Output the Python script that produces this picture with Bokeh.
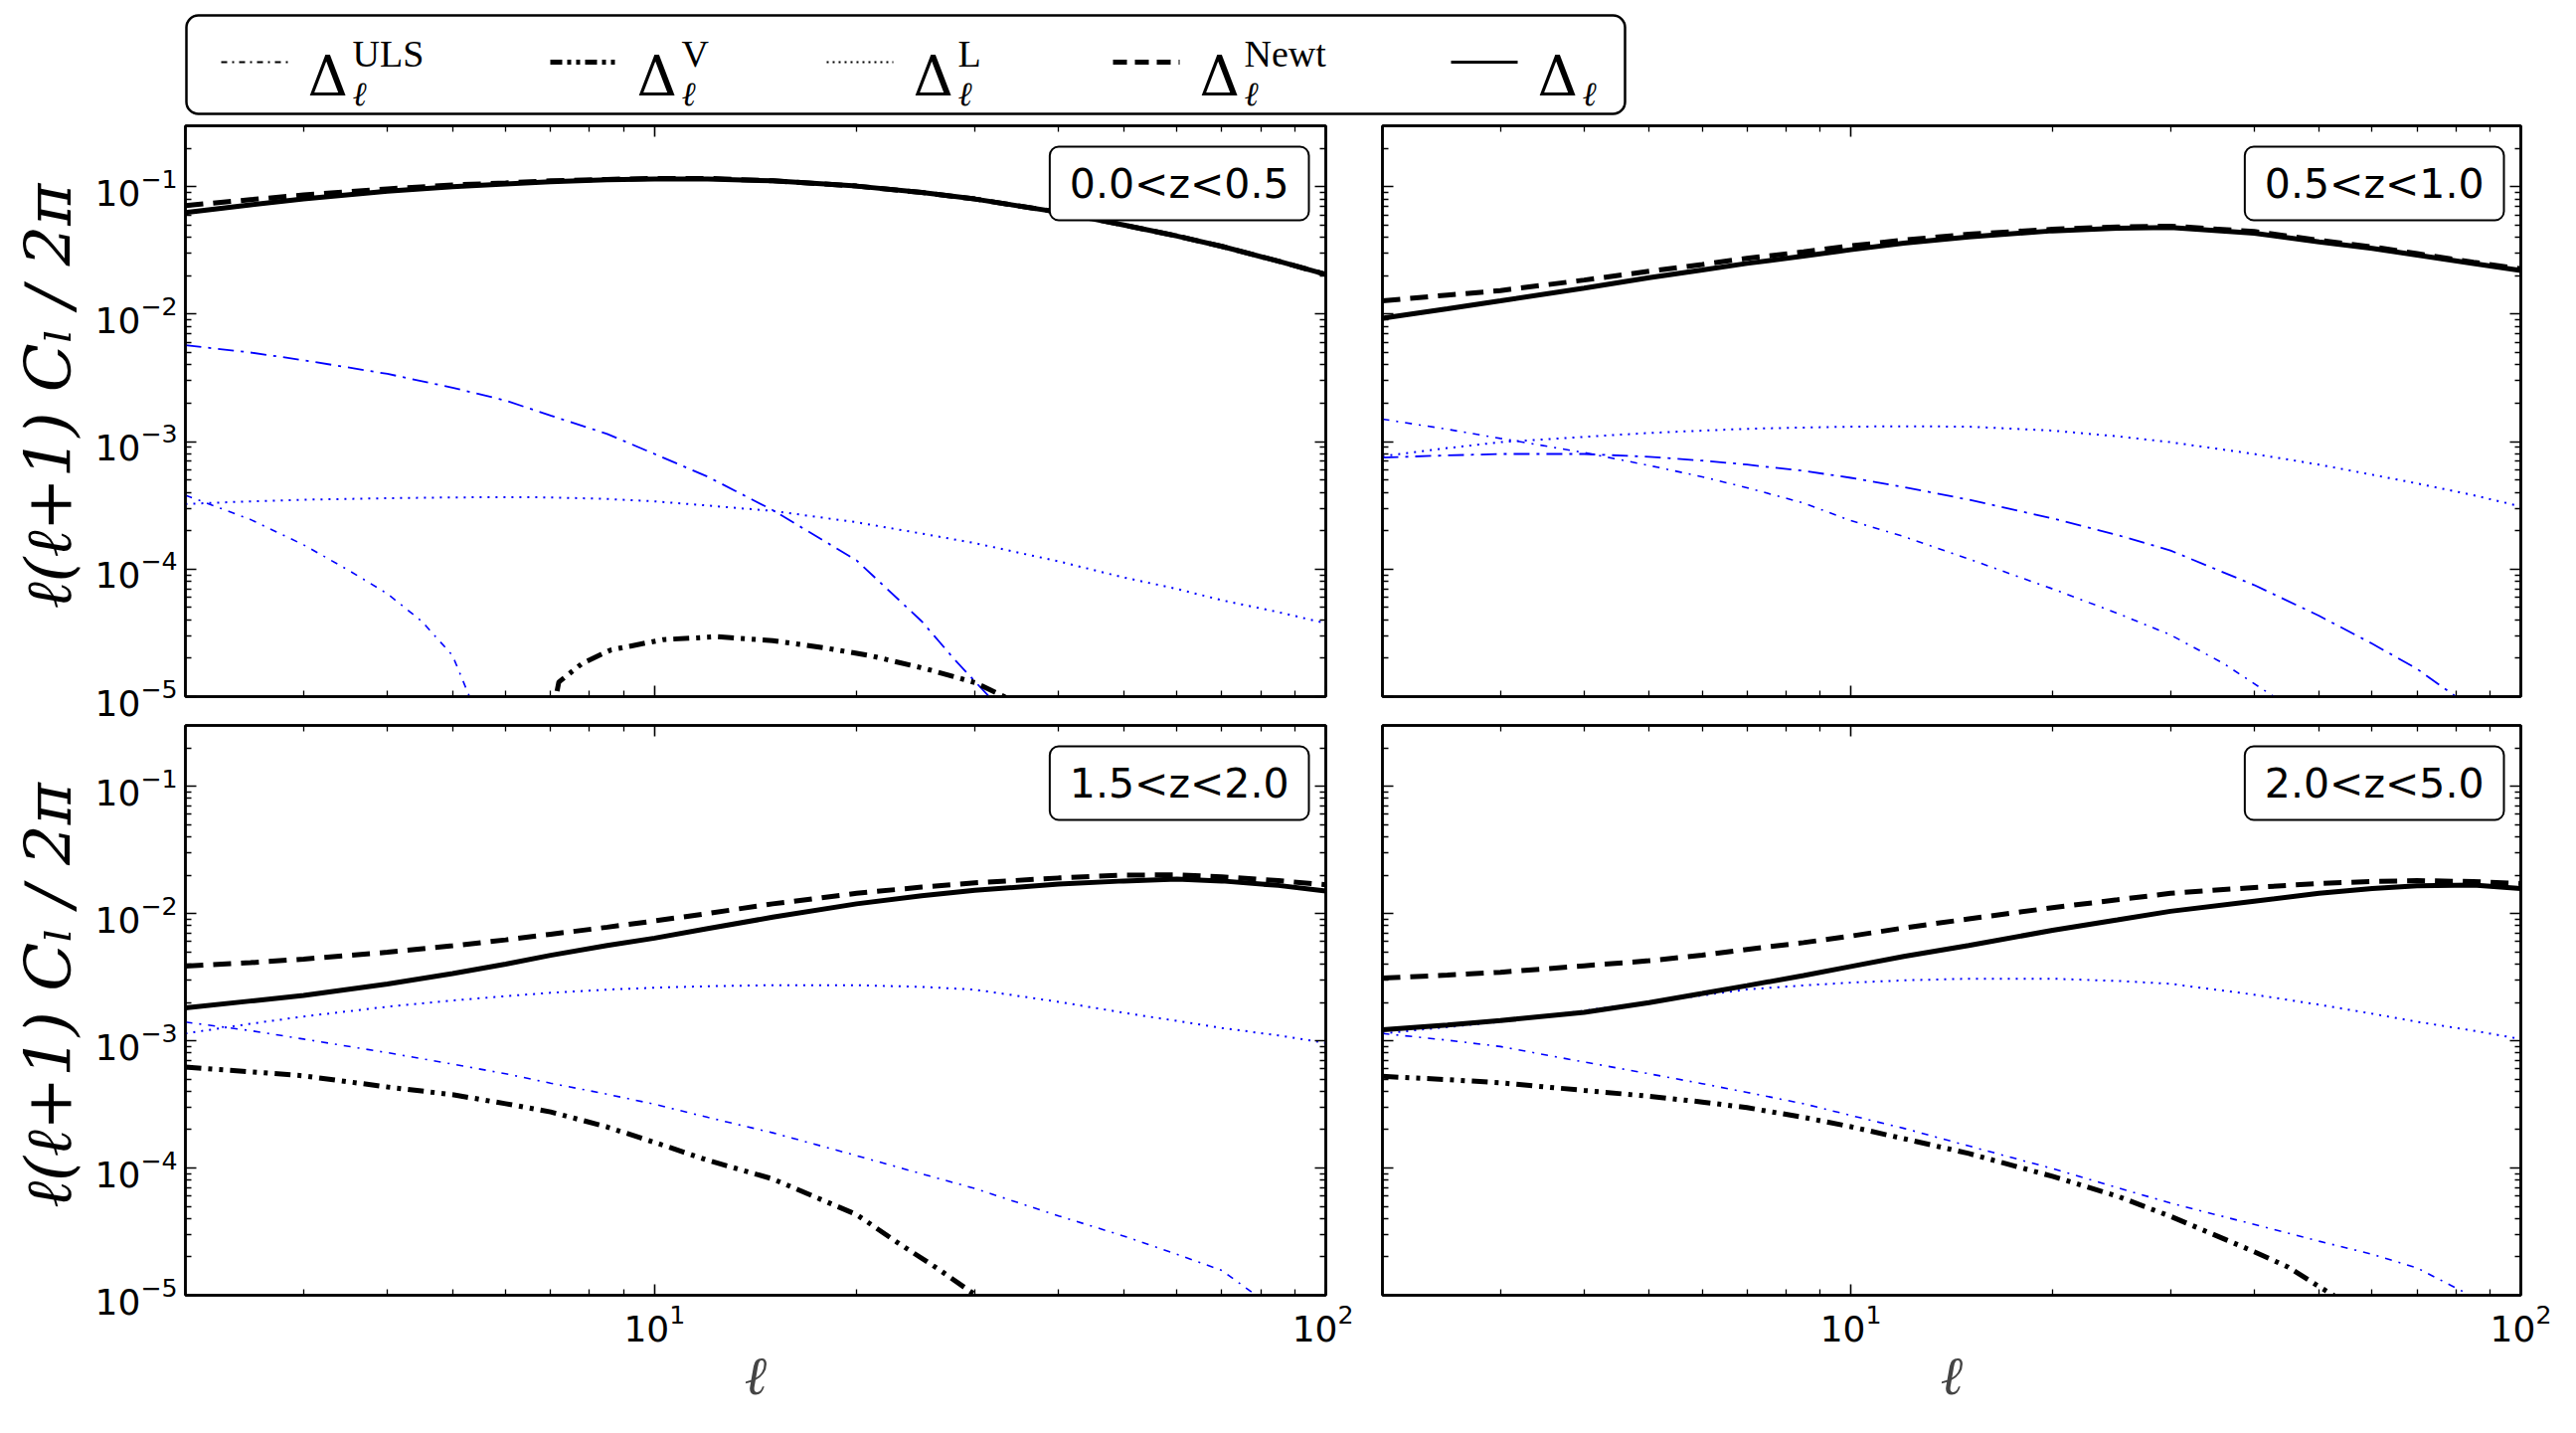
import math
from bokeh.plotting import figure
from bokeh.layouts import column, row
from bokeh.models import Range1d, LogAxis, FixedTicker, Label, BoxAnnotation
from bokeh.core.properties import value
from bokeh.embed import file_html
from bokeh.resources import INLINE

BLUE = "#0000ff"

# common multipole grid for the smooth spectra
ELL = [2, 2.5, 3, 4, 5, 6, 7, 8.5, 10, 12, 15, 20, 25, 30, 40, 50, 60, 70, 85, 100]

# ---- 0.0 < z < 0.5 ----
z1_total = [0.0626, 0.072, 0.080, 0.092, 0.100, 0.105, 0.109, 0.113, 0.115, 0.115,
            0.111, 0.101, 0.090, 0.080, 0.063, 0.050, 0.041, 0.034, 0.026, 0.0205]
z1_newt = [0.071, 0.079, 0.086, 0.096, 0.103, 0.107, 0.111, 0.114, 0.116, 0.116,
           0.111, 0.101, 0.090, 0.080, 0.063, 0.050, 0.041, 0.034, 0.026, 0.0205]
z1_L = [3.24e-4, 3.4e-4, 3.5e-4, 3.6e-4, 3.65e-4, 3.67e-4, 3.65e-4, 3.55e-4, 3.4e-4, 3.15e-4,
        2.86e-4, 2.33e-4, 1.9e-4, 1.6e-4, 1.15e-4, 8.6e-5, 7.0e-5, 5.7e-5, 4.6e-5, 3.76e-5]
z1_uls_ell = [2, 2.5, 3, 3.5, 4, 4.5, 5, 5.3, 5.5]
z1_uls = [3.8e-4, 2.45e-4, 1.55e-4, 9.8e-5, 6.4e-5, 3.9e-5, 2.1e-5, 1.0e-5, 5e-6]
z1_dd_ell = [2, 2.5, 3, 4, 5, 6, 7, 8.5, 10, 12, 15, 20, 25, 28, 31.5, 33]
z1_dd = [5.7e-3, 5.0e-3, 4.35e-3, 3.4e-3, 2.65e-3, 2.1e-3, 1.6e-3, 1.15e-3, 8.0e-4, 5.3e-4,
         2.9e-4, 1.17e-4, 3.9e-5, 1.95e-5, 1.0e-5, 5e-6]
z1_v_ell = [6.95, 7.2, 7.8, 8.6, 10.3, 12.4, 15, 18, 21, 25.5, 30, 33.2, 34]
z1_v = [5e-6, 1.3e-5, 1.82e-5, 2.32e-5, 2.8e-5, 2.95e-5, 2.75e-5, 2.4e-5, 2.09e-5, 1.64e-5,
        1.29e-5, 1.0e-5, 8e-6]

# ---- 0.5 < z < 1.0 ----
z2_total = [9.3e-3, 0.0110, 0.0127, 0.0160, 0.0193, 0.0222, 0.0250, 0.0285, 0.0320, 0.0360,
            0.0403, 0.0450, 0.0472, 0.0478, 0.0431, 0.0368, 0.0328, 0.0290, 0.0249, 0.0220]
z2_newt = [0.0127, 0.0141, 0.0153, 0.0185, 0.0217, 0.0245, 0.0274, 0.0308, 0.0343, 0.0381,
           0.0423, 0.0463, 0.0483, 0.0490, 0.0445, 0.0380, 0.0337, 0.0298, 0.0255, 0.0227]
z2_L = [7.7e-4, 8.9e-4, 9.9e-4, 1.09e-3, 1.17e-3, 1.22e-3, 1.26e-3, 1.29e-3, 1.31e-3, 1.32e-3,
        1.31e-3, 1.22e-3, 1.10e-3, 9.9e-4, 8.0e-4, 6.6e-4, 5.5e-4, 4.7e-4, 3.8e-4, 3.1e-4]
z2_uls_ell = [2, 2.5, 3, 4, 5, 6, 7, 8.5, 10, 12, 15, 20, 25, 30, 36, 42.8, 45]
z2_uls = [1.5e-3, 1.25e-3, 1.06e-3, 8.2e-4, 6.5e-4, 5.3e-4, 4.35e-4, 3.3e-4, 2.4e-4, 1.8e-4,
          1.2e-4, 7.0e-5, 4.5e-5, 3.05e-5, 1.82e-5, 1.0e-5, 7e-6]
z2_dd_ell = [2, 2.5, 3, 4, 5, 6, 7, 8.5, 10, 12, 15, 20, 25, 30, 40, 50, 60, 70, 80, 83]
z2_dd = [7.5e-4, 7.8e-4, 8.0e-4, 8.0e-4, 7.6e-4, 7.1e-4, 6.6e-4, 5.9e-4, 5.2e-4, 4.4e-4,
         3.5e-4, 2.5e-4, 1.85e-4, 1.4e-4, 7.5e-5, 4.3e-5, 2.6e-5, 1.65e-5, 1.0e-5, 7e-6]

# ---- 1.5 < z < 2.0 ----
z3_total = [1.81e-3, 2.05e-3, 2.27e-3, 2.79e-3, 3.37e-3, 4.0e-3, 4.69e-3, 5.6e-3, 6.4e-3, 7.6e-3,
            9.35e-3, 0.0119, 0.0138, 0.0152, 0.0170, 0.0180, 0.0186, 0.0180, 0.0166, 0.0150]
z3_newt = [3.86e-3, 4.1e-3, 4.38e-3, 4.96e-3, 5.57e-3, 6.2e-3, 6.86e-3, 7.8e-3, 8.73e-3, 0.0100,
           0.0119, 0.0144, 0.0161, 0.0174, 0.0190, 0.0200, 0.0201, 0.0194, 0.0181, 0.0168]
z3_L = [1.14e-3, 1.36e-3, 1.55e-3, 1.85e-3, 2.07e-3, 2.24e-3, 2.38e-3, 2.52e-3, 2.61e-3, 2.68e-3,
        2.73e-3, 2.73e-3, 2.65e-3, 2.52e-3, 2.02e-3, 1.66e-3, 1.43e-3, 1.26e-3, 1.1e-3, 9.6e-4]
z3_uls_ell = [2, 2.5, 3, 4, 5, 6, 7, 8.5, 10, 12, 15, 20, 25, 30, 40, 50, 60, 70, 78.7, 82]
z3_uls = [1.4e-3, 1.2e-3, 1.03e-3, 8.05e-4, 6.55e-4, 5.5e-4, 4.64e-4, 3.8e-4, 3.17e-4, 2.5e-4,
          1.89e-4, 1.25e-4, 9.0e-5, 6.9e-5, 4.2e-5, 2.92e-5, 2.1e-5, 1.57e-5, 1.0e-5, 7e-6]
z3_v_ell = [2, 2.5, 3, 4, 5, 6, 7, 8.5, 10, 12, 15, 20, 23, 26.5, 30.1, 31]
z3_v = [6.2e-4, 5.7e-4, 5.3e-4, 4.33e-4, 3.77e-4, 3.2e-4, 2.76e-4, 2.1e-4, 1.59e-4, 1.15e-4,
        8.2e-5, 4.3e-5, 2.6e-5, 1.6e-5, 1.0e-5, 8e-6]

# ---- 2.0 < z < 5.0 ----
z4_total = [1.22e-3, 1.33e-3, 1.44e-3, 1.67e-3, 1.99e-3, 2.35e-3, 2.71e-3, 3.25e-3, 3.83e-3, 4.6e-3,
            5.6e-3, 7.37e-3, 8.9e-3, 0.0104, 0.0125, 0.0144, 0.0157, 0.0165, 0.0167, 0.0157]
z4_newt = [3.11e-3, 3.28e-3, 3.45e-3, 3.88e-3, 4.25e-3, 4.7e-3, 5.22e-3, 5.9e-3, 6.64e-3, 7.7e-3,
           9.06e-3, 0.0111, 0.0128, 0.0144, 0.0160, 0.0172, 0.0178, 0.0181, 0.0178, 0.0172]
z4_L = [1.14e-3, 1.28e-3, 1.41e-3, 1.72e-3, 2.02e-3, 2.27e-3, 2.53e-3, 2.72e-3, 2.86e-3, 2.98e-3,
        3.07e-3, 3.07e-3, 2.95e-3, 2.8e-3, 2.3e-3, 1.92e-3, 1.63e-3, 1.41e-3, 1.2e-3, 1.03e-3]
z4_uls_ell = [2, 2.5, 3, 4, 5, 6, 7, 8.5, 10, 12, 15, 20, 25, 30, 40, 50, 60, 70, 84, 87]
z4_uls = [1.14e-3, 1.01e-3, 9.0e-4, 6.8e-4, 5.5e-4, 4.6e-4, 3.93e-4, 3.2e-4, 2.59e-4, 2.05e-4,
          1.49e-4, 9.9e-5, 7.0e-5, 5.3e-5, 3.6e-5, 2.66e-5, 2.1e-5, 1.64e-5, 1.0e-5, 8e-6]
z4_v_ell = [2, 2.5, 3, 4, 5, 6, 7, 8.5, 10, 12, 15, 20, 25, 30, 40, 45, 50, 52.5, 54]
z4_v = [5.25e-4, 4.95e-4, 4.67e-4, 4.07e-4, 3.66e-4, 3.3e-4, 2.98e-4, 2.5e-4, 2.11e-4, 1.7e-4,
        1.3e-4, 8.6e-5, 6.0e-5, 4.17e-5, 2.2e-5, 1.66e-5, 1.17e-5, 1.0e-5, 8e-6]

BIN_TAGS = ["0.0<z<0.5", "0.5<z<1.0", "1.5<z<2.0", "2.0<z<5.0"]
LEGEND_SUPS = ["ULS", "V", "L", "Newt", ""]
Y_LABEL = "\u2113(\u2113+1) C\u2097 / 2\u03c0"
X_LABEL = "\u2113"

STYLE = {
    "total": dict(line_color="black", line_width=5),
    "newt": dict(line_color="black", line_width=5, line_dash="18 10"),
    "V": dict(line_color="black", line_width=5, line_dash="16 7 4 7 4 7"),
    "L": dict(line_color=BLUE, line_width=2, line_dash="2 6"),
    "ULS": dict(line_color=BLUE, line_width=1.6, line_dash="7 7 2 7"),
    "extra": dict(line_color=BLUE, line_width=1.8, line_dash="16 7 3 7"),
}
DRAW_ORDER = ["L", "ULS", "extra", "V", "newt", "total"]

X_LO, X_HI = 2, 100
Y_LO, Y_HI = 1e-5, 0.3
XMAJ = [10, 100]
XMIN = [k * 10 ** e for e in (0, 1) for k in range(2, 10)]
YMAJ = [10.0 ** e for e in range(-5, 0)]
YMIN = [k * 10.0 ** e for e in range(-5, 0) for k in range(2, 10)]

TICK_FONT = "DejaVu Sans"
MATH_FONT = "DejaVu Serif"

# layout sizes (pixels)
LEG_H = 116
STRIP_W = 88
LW, RW = 1273, 1230
FRAME_H = 574
TOP_BT, TOP_BB = 10, 27
BOT_BT, BOT_BB = 2, 139
TOP_H = TOP_BT + FRAME_H + TOP_BB
BOT_H = BOT_BT + FRAME_H - 1 + BOT_BB


def style_axis(ax, major, minor, labelled):
    ax.ticker = FixedTicker(ticks=major, minor_ticks=minor)
    ax.axis_line_color = "black"
    ax.axis_line_width = 2.5
    ax.major_tick_in = 11
    ax.major_tick_out = 0
    ax.minor_tick_in = 6
    ax.minor_tick_out = 0
    ax.major_tick_line_color = "black"
    ax.minor_tick_line_color = "black"
    ax.major_tick_line_width = 1.6
    ax.minor_tick_line_width = 1.3
    if labelled:
        ax.major_label_text_font = TICK_FONT
        ax.major_label_text_font_size = "36px"
        ax.major_label_text_color = "black"
        ax.major_label_standoff = 8
    else:
        # tick marks only: tiny, invisible labels
        ax.major_label_text_font_size = "2px"
        ax.major_label_text_color = None
        ax.major_label_standoff = 0


def panel(curves, tag, left_lab, bottom_lab, w, h, bl, br, bt, bb):
    p = figure(width=w, height=h, x_axis_type="log", y_axis_type="log",
               x_range=Range1d(X_LO, X_HI), y_range=Range1d(Y_LO, Y_HI),
               output_backend="svg", toolbar_location=None,
               min_border_left=bl, min_border_right=br,
               min_border_top=bt, min_border_bottom=bb)
    p.grid.visible = False
    p.outline_line_color = "black"
    p.outline_line_width = 2.5
    p.background_fill_color = "white"
    p.border_fill_color = "white"

    top_ax = LogAxis()
    right_ax = LogAxis()
    p.add_layout(top_ax, "above")
    p.add_layout(right_ax, "right")
    bottom_ax = p.below[0]
    left_ax = p.left[0]

    style_axis(bottom_ax, XMAJ, XMIN, bottom_lab)
    style_axis(top_ax, XMAJ, XMIN, False)
    style_axis(left_ax, YMAJ, YMIN, left_lab)
    style_axis(right_ax, YMAJ, YMIN, False)

    if bottom_lab:
        bottom_ax.axis_label = X_LABEL
        bottom_ax.axis_label_text_font = MATH_FONT
        bottom_ax.axis_label_text_font_style = "italic"
        bottom_ax.axis_label_text_font_size = "54px"
        bottom_ax.axis_label_standoff = 0

    for key in DRAW_ORDER:
        if key in curves:
            xs, ys = curves[key]
            p.line(xs, ys, **STYLE[key])

    p.add_layout(Label(x=X_HI, y=Y_HI, x_units="data", y_units="data",
                       x_offset=-17, y_offset=-21, anchor="top_right",
                       text=tag, text_font=TICK_FONT, text_font_size="41px",
                       text_color="black",
                       background_fill_color="white", background_fill_alpha=1.0,
                       border_line_color="black", border_line_width=2,
                       border_radius=9, padding=(20, 13)))
    return p


def label_strip(h, bt, bb):
    """Narrow strip left of a row carrying the rotated y-axis title."""
    s = figure(width=STRIP_W, height=h, x_range=Range1d(0, STRIP_W),
               y_range=Range1d(Y_LO, Y_HI), y_axis_type="log",
               output_backend="svg", toolbar_location=None,
               x_axis_location=None, y_axis_location=None,
               min_border_left=0, min_border_right=0,
               min_border_top=bt, min_border_bottom=bb)
    s.grid.visible = False
    s.outline_line_color = None
    s.background_fill_color = "white"
    s.border_fill_color = "white"
    decades = math.log10(Y_HI) - math.log10(Y_LO)
    y_mid = 10 ** ((math.log10(Y_LO) + math.log10(Y_HI)) / 2 + decades * 15 / FRAME_H)
    s.text(x=[48], y=[y_mid], text=[Y_LABEL], angle=math.pi / 2,
           text_align="center", text_baseline="middle",
           text_font=value(MATH_FONT), text_font_style="italic",
           text_font_size="64px", text_color="black")
    return s


tl = panel({"total": (ELL, z1_total), "newt": (ELL, z1_newt), "L": (ELL, z1_L),
            "ULS": (z1_uls_ell, z1_uls), "extra": (z1_dd_ell, z1_dd), "V": (z1_v_ell, z1_v)},
           BIN_TAGS[0], True, False, LW, TOP_H, 98, 28, TOP_BT, TOP_BB)
tr = panel({"total": (ELL, z2_total), "newt": (ELL, z2_newt), "L": (ELL, z2_L),
            "ULS": (z2_uls_ell, z2_uls), "extra": (z2_dd_ell, z2_dd)},
           BIN_TAGS[1], False, False, RW, TOP_H, 29, 56, TOP_BT, TOP_BB)
bl = panel({"total": (ELL, z3_total), "newt": (ELL, z3_newt), "L": (ELL, z3_L),
            "ULS": (z3_uls_ell, z3_uls), "V": (z3_v_ell, z3_v)},
           BIN_TAGS[2], True, True, LW, BOT_H, 98, 28, BOT_BT, BOT_BB)
br = panel({"total": (ELL, z4_total), "newt": (ELL, z4_newt), "L": (ELL, z4_L),
            "ULS": (z4_uls_ell, z4_uls), "V": (z4_v_ell, z4_v)},
           BIN_TAGS[3], False, True, RW, BOT_H, 29, 56, BOT_BT, BOT_BB)

# legend strip across the top
leg_w = STRIP_W + LW + RW
leg = figure(width=leg_w, height=LEG_H, x_range=Range1d(0, leg_w), y_range=Range1d(LEG_H, 0),
             output_backend="svg", toolbar_location=None,
             x_axis_location=None, y_axis_location=None, min_border=0)
leg.grid.visible = False
leg.outline_line_color = None
leg.background_fill_color = "white"
leg.border_fill_color = "white"
leg.add_layout(BoxAnnotation(left=187, right=1634, top=15, bottom=114, level="underlay",
                             fill_color=None, fill_alpha=0.0,
                             line_color="black", line_alpha=1.0, line_width=2.5,
                             border_radius=12))

legend_styles = [
    dict(line_color="black", line_width=1.8, line_dash="6 5 2 5"),
    dict(line_color="black", line_width=5, line_dash="12 5 4 5 4 5"),
    dict(line_color="black", line_width=1.8, line_dash="2 4"),
    dict(line_color="black", line_width=5, line_dash="14 8"),
    dict(line_color="black", line_width=3),
]
legend_x0 = [222, 553, 831, 1119, 1459]
SAMPLE_LEN = 67
LINE_Y = 62
for x0, sup, sty in zip(legend_x0, LEGEND_SUPS, legend_styles):
    leg.line([x0, x0 + SAMPLE_LEN], [LINE_Y, LINE_Y], **sty)
    dx = x0 + SAMPLE_LEN + 20
    leg.text(x=[dx], y=[76], text=["\u0394"], text_font=value(MATH_FONT),
             text_font_size="56px", text_baseline="alphabetic", text_align="left",
             text_color="black")
    if sup:
        leg.text(x=[dx + 45], y=[53], text=[sup], text_font=value("Liberation Serif"),
                 text_font_size="38px", text_baseline="alphabetic", text_align="left",
                 text_color="black")
    leg.text(x=[dx + 45], y=[93], text=[X_LABEL], text_font=value(MATH_FONT),
             text_font_style="italic", text_font_size="34px", text_baseline="alphabetic",
             text_align="left", text_color="black")

layout = column(leg,
                row(label_strip(TOP_H, TOP_BT, TOP_BB), tl, tr),
                row(label_strip(BOT_H, BOT_BT, BOT_BB), bl, br))

with open("out.html", "w") as f:
    f.write(file_html(layout, INLINE, title="Angular power spectra"))
